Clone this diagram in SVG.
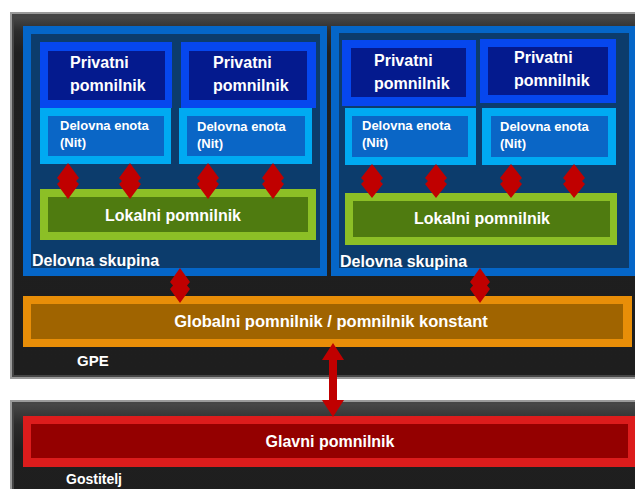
<svg xmlns="http://www.w3.org/2000/svg" width="635" height="489" viewBox="0 0 635 489">
<defs>
<linearGradient id="frameGrad" x1="0" y1="0" x2="0" y2="1">
<stop offset="0" stop-color="#474747"/>
<stop offset="0.04" stop-color="#2c2c2c"/>
<stop offset="0.1" stop-color="#1f1f1f"/>
<stop offset="1" stop-color="#1e1e1e"/>
</linearGradient>
<linearGradient id="hostGrad" x1="0" y1="0" x2="0" y2="1">
<stop offset="0" stop-color="#474747"/>
<stop offset="0.2" stop-color="#2c2c2c"/>
<stop offset="0.45" stop-color="#1f1f1f"/>
<stop offset="1" stop-color="#1e1e1e"/>
</linearGradient>
<style>
text{font-family:"Liberation Sans",Arial,sans-serif;fill:#ffffff}
.b{font-weight:bold;font-size:16px}
.s{font-size:13px;font-weight:bold}
.m{text-anchor:middle}
.wgO{fill:#0566c8}
.wgI{fill:#0c3c6c}
.pO{fill:#0647ee}
.pI{fill:#041a8e}
.dO{fill:#00aaf2}
.dI{fill:#0a66c6}
.lO{fill:#8cbf26}
.lI{fill:#4f7b10}
.arr{fill:#c00000}
</style>
</defs>

<g id="gpe">
<rect x="10" y="12" width="640" height="367" fill="#9a9a9a"/>
<rect x="12" y="14" width="640" height="363" fill="#454545"/>
<rect x="14" y="17" width="640" height="358" fill="url(#frameGrad)"/>
<text class="b" x="77" y="366" style="font-size:15px">GPE</text>
</g>

<g id="host">
<rect x="10" y="400" width="640" height="100" fill="#9a9a9a"/>
<rect x="12" y="402" width="640" height="100" fill="#454545"/>
<rect x="14" y="404" width="640" height="100" fill="url(#hostGrad)"/>
<text class="b" x="66" y="484" style="font-size:14px">Gostitelj</text>
</g>

<g id="workgroup1">
<rect class="wgO" x="23" y="26" width="304" height="250"/>
<rect class="wgI" x="31" y="34" width="289" height="234"/>
<text class="b" x="32" y="266">Delovna skupina</text>
</g>

<g id="workgroup2">
<rect class="wgO" x="331" y="26" width="310" height="250"/>
<rect class="wgI" x="339" y="33" width="290" height="235"/>
<text class="b" x="340" y="267">Delovna skupina</text>
</g>

<g id="private1">
<rect class="pO" x="40" y="42" width="132" height="66"/>
<rect class="pI" x="48" y="51" width="117" height="49"/>
<text class="b" x="70" y="68">Privatni</text>
<text class="b" x="70" y="91">pomnilnik</text>
</g>
<g id="private2">
<rect class="pO" x="181" y="42" width="135" height="66"/>
<rect class="pI" x="189" y="51" width="118" height="49"/>
<text class="b" x="213" y="68">Privatni</text>
<text class="b" x="213" y="91">pomnilnik</text>
</g>
<g id="private3">
<rect class="pO" x="342" y="40" width="134" height="66"/>
<rect class="pI" x="351" y="48" width="115" height="49"/>
<text class="b" x="374" y="66">Privatni</text>
<text class="b" x="374" y="89">pomnilnik</text>
</g>
<g id="private4">
<rect class="pO" x="480" y="39" width="136" height="64"/>
<rect class="pI" x="488" y="47" width="120" height="48"/>
<text class="b" x="514" y="63">Privatni</text>
<text class="b" x="514" y="86">pomnilnik</text>
</g>

<g id="workitem1">
<rect class="dO" x="40" y="108" width="131" height="56"/>
<rect class="dI" x="48" y="116" width="116" height="40"/>
<text class="s" x="60" y="130">Delovna enota</text>
<text class="s" x="60" y="147">(Nit)</text>
</g>
<g id="workitem2">
<rect class="dO" x="179" y="108" width="133" height="56"/>
<rect class="dI" x="187" y="116" width="118" height="40"/>
<text class="s" x="197" y="131">Delovna enota</text>
<text class="s" x="197" y="148">(Nit)</text>
</g>
<g id="workitem3">
<rect class="dO" x="345" y="108" width="131" height="57"/>
<rect class="dI" x="352" y="116" width="116" height="41"/>
<text class="s" x="362" y="130">Delovna enota</text>
<text class="s" x="362" y="147">(Nit)</text>
</g>
<g id="workitem4">
<rect class="dO" x="482" y="108" width="134" height="57"/>
<rect class="dI" x="491" y="116" width="117" height="41"/>
<text class="s" x="500" y="131">Delovna enota</text>
<text class="s" x="500" y="148">(Nit)</text>
</g>

<g id="local1">
<rect class="lO" x="40" y="189" width="276" height="51"/>
<rect class="lI" x="48" y="197" width="260" height="35"/>
<text class="b m" x="173" y="221">Lokalni pomnilnik</text>
</g>
<g id="local2">
<rect class="lO" x="345" y="193" width="272" height="52"/>
<rect class="lI" x="353" y="201" width="257" height="36"/>
<text class="b m" x="482" y="224">Lokalni pomnilnik</text>
</g>

<g id="global">
<rect x="23" y="296" width="609" height="51" fill="#e88e08"/>
<rect x="31" y="304" width="592" height="35" fill="#a06400"/>
<text class="b m" x="331" y="327" style="font-size:16.5px">Globalni pomnilnik / pomnilnik konstant</text>
</g>

<g id="main">
<rect x="23" y="416" width="620" height="51" fill="#dc1c1c"/>
<rect x="31" y="424" width="597" height="34" fill="#940000"/>
<text class="b m" x="330" y="447">Glavni pomnilnik</text>
</g>

<g id="connectors">
<polygon class="arr" points="68,163 79,178 76,181 79,184 68,199 57,184 60,181 57,178"/>
<polygon class="arr" points="130,163 141,178 138,181 141,184 130,199 119,184 122,181 119,178"/>
<polygon class="arr" points="208,163 219,178 216,181 219,184 208,199 197,184 200,181 197,178"/>
<polygon class="arr" points="273,163 284,178 281,181 284,184 273,199 262,184 265,181 262,178"/>
<polygon class="arr" points="372,164 383,178 380,181 383,184 372,198 361,184 364,181 361,178"/>
<polygon class="arr" points="436,164 447,178 444,181 447,184 436,198 425,184 428,181 425,178"/>
<polygon class="arr" points="511,164 522,178 519,181 522,184 511,198 500,184 503,181 500,178"/>
<polygon class="arr" points="574,164 585,178 582,181 585,184 574,198 563,184 566,181 563,178"/>
<polygon class="arr" points="180,268 190,282 187,285.5 190,289 180,303 170,289 173,285.5 170,282"/>
<polygon class="arr" points="480,268 490,282 487,285.5 490,289 480,303 470,289 473,285.5 470,282"/>
<polygon class="arr" points="333,343 344,360 337,360 337,400 344,400 333,417 322,400 329,400 329,360 322,360"/>
</g>
</svg>
